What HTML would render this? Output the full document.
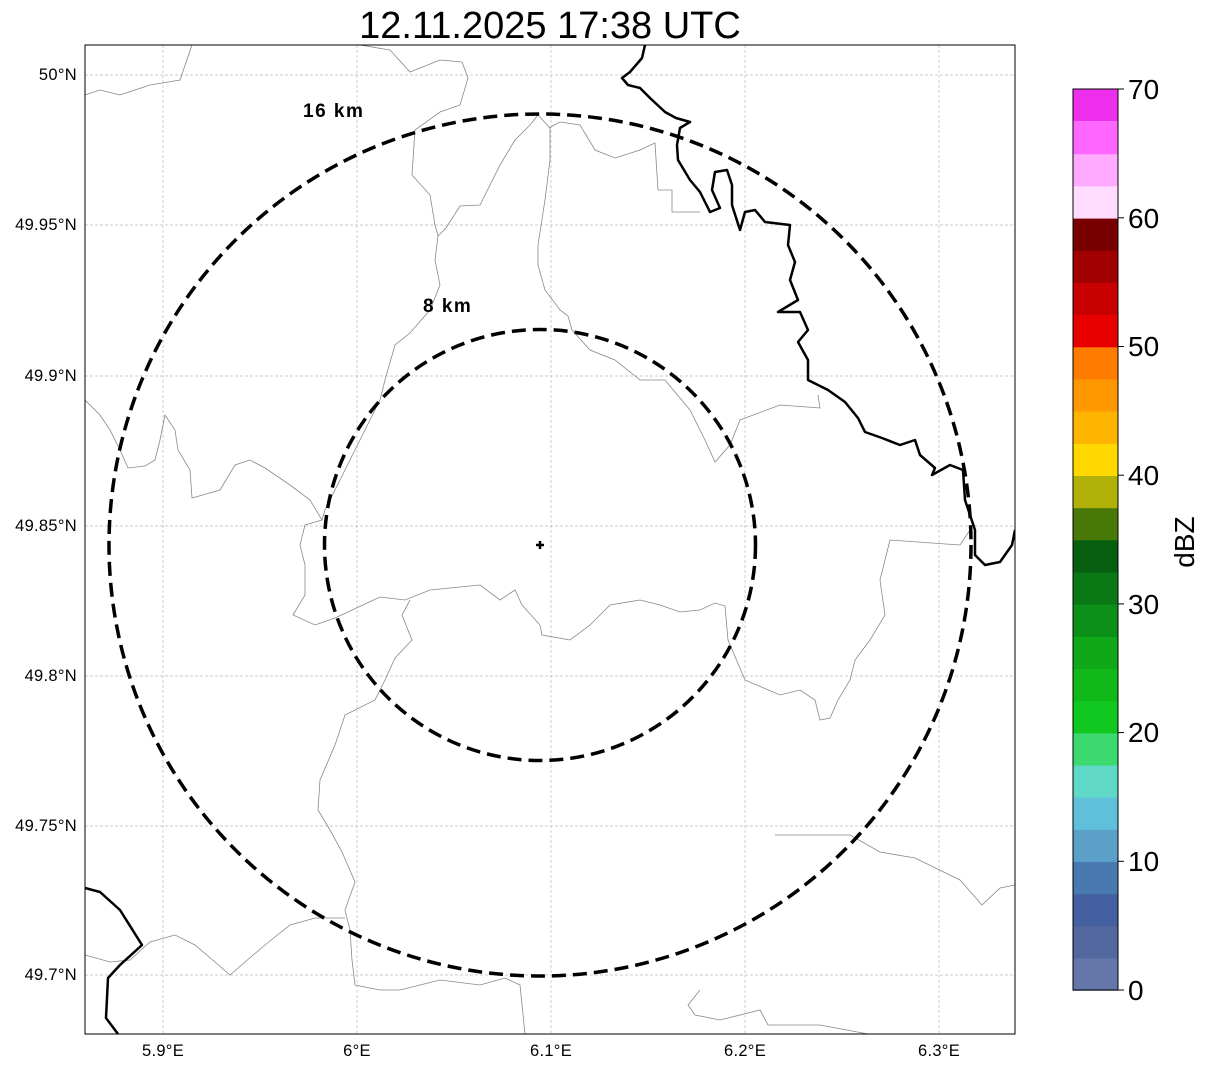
<!DOCTYPE html>
<html><head><meta charset="utf-8"><style>
body{margin:0;background:#fff;}
svg text{font-family:"Liberation Sans","DejaVu Sans",sans-serif;}
</style></head><body>
<svg width="1207" height="1069" viewBox="0 0 1207 1069" xmlns="http://www.w3.org/2000/svg">
<rect width="1207" height="1069" fill="#fff"/>
<text x="550" y="38" font-size="38" text-anchor="middle">12.11.2025 17:38 UTC</text>
<defs><clipPath id="c"><rect x="85" y="45" width="930" height="989"/></clipPath></defs>
<g stroke="#bbb" stroke-width="0.7" stroke-dasharray="3,2">
<line x1="163" y1="45" x2="163" y2="1034"/><line x1="357" y1="45" x2="357" y2="1034"/><line x1="551" y1="45" x2="551" y2="1034"/><line x1="745" y1="45" x2="745" y2="1034"/><line x1="939" y1="45" x2="939" y2="1034"/>
<line x1="85" y1="75" x2="1015" y2="75"/><line x1="85" y1="225" x2="1015" y2="225"/><line x1="85" y1="376" x2="1015" y2="376"/><line x1="85" y1="526" x2="1015" y2="526"/><line x1="85" y1="676" x2="1015" y2="676"/><line x1="85" y1="826" x2="1015" y2="826"/><line x1="85" y1="975" x2="1015" y2="975"/>
</g>
<g clip-path="url(#c)" fill="none" stroke="#888" stroke-width="0.8">
<polyline points="85,95 100,90 120,95 150,85 180,80 192,45"/>
<polyline points="360,45 390,50 410,72 440,60 462,62 468,78 460,105 440,112 415,130 412,175 430,195 435,225 438,236 446,228 460,206 480,205 500,165 515,140 530,125 538,115 550,128 550,160 545,200 538,245 538,265 545,290 560,310 568,316 572,330 590,350 615,360 640,380 665,380 690,410 705,440 715,462 730,445 740,420 780,405 820,408 818,395"/>
<polyline points="549,128 560,122 580,125 595,150 615,158 640,150 655,143 658,190 672,190 672,212 700,212"/>
<polyline points="438,236 435,260 440,285 430,310 410,333 395,345 385,380 380,400 360,440 345,470 325,510 322,520"/>
<polyline points="85,400 100,415 110,430 120,450 128,468 145,466 155,460 160,440 165,415 175,430 178,450 190,470 192,498 220,490 235,465 250,460 265,468 290,485 310,500 322,520 305,525 300,545 305,565 305,595 293,615 315,625 335,618 380,597 405,600 430,590 480,585 500,600 515,590 522,605 540,625 542,635 570,640 590,625 610,605 640,600 660,605 680,612 700,610 715,603 725,606 728,640 745,680 780,695 800,690 815,700 820,720 830,718 838,700 850,680 855,660 870,640 885,615 880,580 890,540 960,545 970,530"/>
<polyline points="410,600 402,615 412,640 395,658 385,680 375,700 345,715 335,745 320,780 318,810 330,830 342,852 355,882 345,910 350,930 352,960 355,985 380,990 400,990 440,980 480,985 505,978 520,985 525,1034"/>
<polyline points="85,955 110,962 130,960 150,942 175,935 195,945 215,962 230,975 245,962 265,945 290,925 315,918 345,918"/>
<polyline points="775,835 850,835 880,852 915,858 960,880 982,905 1000,888 1015,885"/>
<polyline points="700,990 688,1005 695,1015 720,1020 760,1010 768,1025 820,1025 868,1034"/>
</g>
<g clip-path="url(#c)" fill="none" stroke="#000" stroke-width="2.5" stroke-linejoin="round">
<polyline points="645,45 642,58 630,72 622,78 628,85 640,88 650,98 665,112 676,118 690,122 680,128 677,145 678,160 690,180 700,192 710,212 720,208 712,190 715,172 727,170 732,185 732,205 740,230 745,212 755,210 765,222 790,225 788,245 795,262 790,280 798,300 778,312 800,312 808,330 798,342 808,360 808,380 828,390 845,402 858,418 865,432 882,438 900,445 915,440 920,455 935,468 932,475 950,465 963,470 965,500 970,515 975,530 975,555 985,565 1000,562 1012,545 1015,530"/>
<polyline points="85,888 100,892 120,910 142,945 120,965 108,978 106,1018 118,1034"/>
</g>
<circle cx="540" cy="545" r="431" fill="none" stroke="#000" stroke-width="3.5" stroke-dasharray="14,7"/>
<circle cx="540" cy="545" r="215.5" fill="none" stroke="#000" stroke-width="3.5" stroke-dasharray="14,7"/>
<path d="M540,541 v8 M536,545 h8" stroke="#000" stroke-width="2.5"/>
<text x="303" y="117" font-size="19" font-weight="bold" letter-spacing="1.5">16 km</text>
<text x="423" y="312" font-size="19" font-weight="bold" letter-spacing="1.5">8 km</text>
<rect x="85" y="45" width="930" height="989" fill="none" stroke="#000" stroke-width="1"/>
<g font-size="16.5" text-anchor="end" letter-spacing="0.3">
<text x="77" y="80">50°N</text><text x="77" y="230">49.95°N</text><text x="77" y="381">49.9°N</text><text x="77" y="531">49.85°N</text><text x="77" y="681">49.8°N</text><text x="77" y="831">49.75°N</text><text x="77" y="980">49.7°N</text>
</g>
<g font-size="16.5" text-anchor="middle" letter-spacing="0.3">
<text x="163" y="1056">5.9°E</text><text x="357" y="1056">6°E</text><text x="551" y="1056">6.1°E</text><text x="745" y="1056">6.2°E</text><text x="939" y="1056">6.3°E</text>
</g>
<g>
<rect x="1073" y="957.8" width="45" height="33" fill="#6577a8"/>
<rect x="1073" y="925.6" width="45" height="33" fill="#5468a0"/>
<rect x="1073" y="893.4" width="45" height="33" fill="#4460a0"/>
<rect x="1073" y="861.3" width="45" height="33" fill="#4a78b0"/>
<rect x="1073" y="829.1" width="45" height="33" fill="#5aa0c8"/>
<rect x="1073" y="796.9" width="45" height="33" fill="#60c0dc"/>
<rect x="1073" y="764.7" width="45" height="33" fill="#60d8c8"/>
<rect x="1073" y="732.6" width="45" height="33" fill="#3cd870"/>
<rect x="1073" y="700.4" width="45" height="33" fill="#10c820"/>
<rect x="1073" y="668.2" width="45" height="33" fill="#10b818"/>
<rect x="1073" y="636" width="45" height="33" fill="#10a818"/>
<rect x="1073" y="603.9" width="45" height="33" fill="#0c9018"/>
<rect x="1073" y="571.7" width="45" height="33" fill="#0a7814"/>
<rect x="1073" y="539.5" width="45" height="33" fill="#065e10"/>
<rect x="1073" y="507.3" width="45" height="33" fill="#487808"/>
<rect x="1073" y="475.2" width="45" height="33" fill="#b0b008"/>
<rect x="1073" y="443" width="45" height="33" fill="#ffd800"/>
<rect x="1073" y="410.8" width="45" height="33" fill="#ffb400"/>
<rect x="1073" y="378.6" width="45" height="33" fill="#ff9800"/>
<rect x="1073" y="346.5" width="45" height="33" fill="#ff7c00"/>
<rect x="1073" y="314.3" width="45" height="33" fill="#e80000"/>
<rect x="1073" y="282.1" width="45" height="33" fill="#c80000"/>
<rect x="1073" y="249.9" width="45" height="33" fill="#a00000"/>
<rect x="1073" y="217.8" width="45" height="33" fill="#780000"/>
<rect x="1073" y="185.6" width="45" height="33" fill="#ffdcff"/>
<rect x="1073" y="153.4" width="45" height="33" fill="#ffaaff"/>
<rect x="1073" y="121.2" width="45" height="33" fill="#ff66ff"/>
<rect x="1073" y="89" width="45" height="32.2" fill="#ee30ee"/>
<rect x="1073" y="89" width="45" height="901" fill="none" stroke="#000" stroke-width="1"/>
</g>
<g stroke="#000" stroke-width="1">
<line x1="1118" y1="990" x2="1124" y2="990"/><line x1="1118" y1="861.3" x2="1124" y2="861.3"/><line x1="1118" y1="732.6" x2="1124" y2="732.6"/><line x1="1118" y1="603.9" x2="1124" y2="603.9"/><line x1="1118" y1="475.2" x2="1124" y2="475.2"/><line x1="1118" y1="346.5" x2="1124" y2="346.5"/><line x1="1118" y1="217.8" x2="1124" y2="217.8"/><line x1="1118" y1="89" x2="1124" y2="89"/>
</g>
<g font-size="28">
<text x="1128" y="1000">0</text><text x="1128" y="871">10</text><text x="1128" y="742">20</text><text x="1128" y="614">30</text><text x="1128" y="485">40</text><text x="1128" y="356">50</text><text x="1128" y="228">60</text><text x="1128" y="99">70</text>
</g>
<text x="1194" y="542" font-size="28" text-anchor="middle" transform="rotate(-90 1194 542)">dBZ</text>
</svg>
</body></html>
